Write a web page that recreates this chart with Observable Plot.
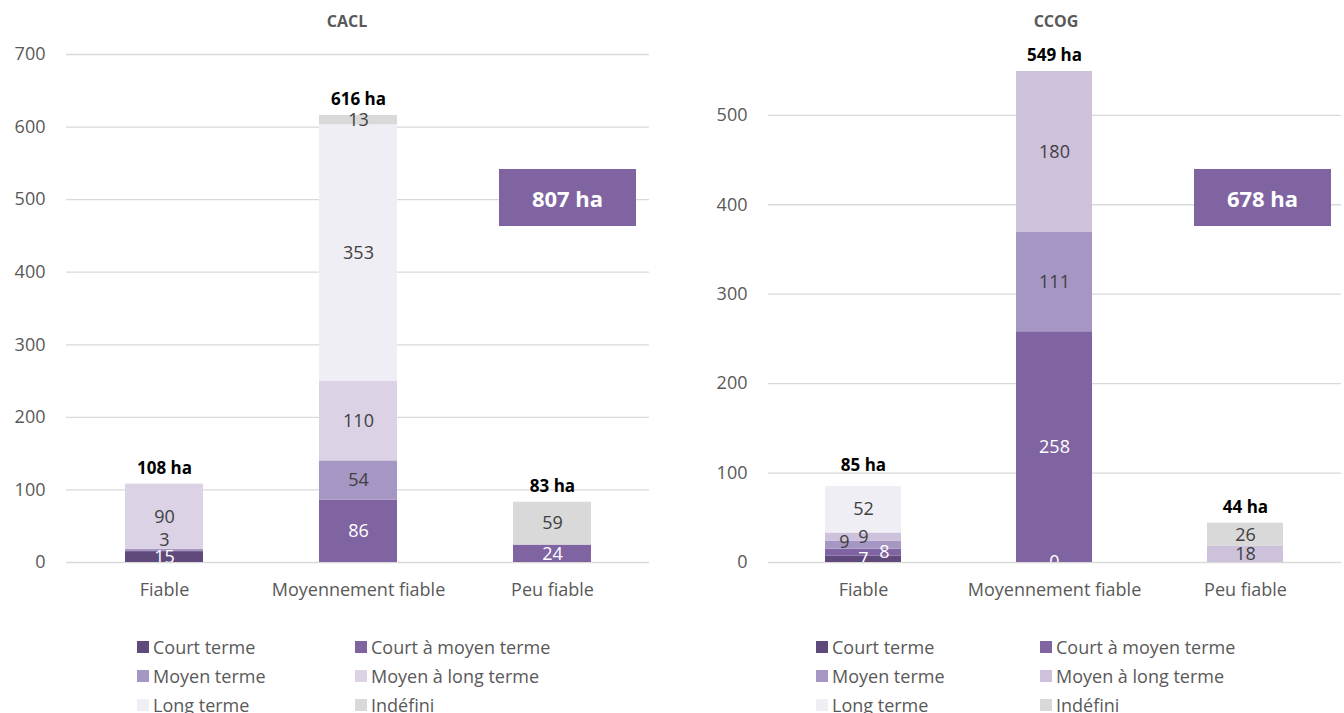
<!DOCTYPE html>
<html>
<head>
<meta charset="utf-8">
<script src="https://cdn.jsdelivr.net/npm/d3@7"></script>
<script src="https://cdn.jsdelivr.net/npm/@observablehq/plot@0.6"></script>
<style>
  html, body { margin: 0; padding: 0; background: #fff; }
  #root { position: relative; width: 1344px; height: 713px; overflow: hidden; font-family: "Open Sans", Lato, sans-serif; }
  .panel { position: absolute; top: 0; }
  .title { position: absolute; top: 12px; font-weight: bold; font-size: 16px; color: #595959; transform: translateX(-50%); line-height: 1.2; }
  .box { position: absolute; width: 137px; height: 57px; background: #8064a2; color: #fff; font-weight: bold; font-size: 22px; display: flex; align-items: center; justify-content: center; }
  .leg { position: absolute; font-size: 18px; color: #595959; display: flex; align-items: center; height: 18px; line-height: 1; white-space: nowrap; }
  .leg span.sw { display: inline-block; width: 12px; height: 12px; margin-right: 4px; }
</style>
</head>
<body>
<div id="root"></div>
<script>
// ---- data ----
const categories = ["Fiable", "Moyennement fiable", "Peu fiable"];
const series = ["Court terme", "Court à moyen terme", "Moyen terme", "Moyen à long terme", "Long terme", "Indéfini"];
// values per category, in series order (null = no segment / no label)
const caclFiable        = [15, null, 3, 90, null, null];
const caclMoyennement   = [null, 86, 54, 110, 353, 13];
const caclPeu           = [null, 24, null, null, null, 59];
const ccogFiable        = [7, 8, 9, 9, 52, null];
const ccogMoyennement   = [0, 258, 111, 180, null, null];
const ccogPeu           = [null, null, null, 18, null, 26];
const caclColors = ["#5f4a7b", "#8064a2", "#a596c3", "#dbd2e6", "#f0eef5", "#d9d9d9"];
const ccogColors = ["#5f4a7b", "#8064a2", "#a596c3", "#cdc1dc", "#f0eef5", "#d9d9d9"];
const whiteLabelSeries = ["Court terme", "Court à moyen terme"];

function toRows(byCat) {
  const rows = [];
  byCat.forEach((vals, i) => vals.forEach((v, j) => {
    if (v !== null) rows.push({cat: categories[i], series: series[j], value: v});
  }));
  return rows;
}

const FONT = "'Open Sans', Lato, sans-serif";

function makeChart({rows, colors, yDomain, yTicks, width, marginLeft, marginRight, nudges, totalNudges}) {
  const totals = categories.map(c => ({cat: c, total: d3.sum(rows.filter(r => r.cat === c), r => r.value)}));
  const key = d => d.cat + "|" + d.series;
  const nudged = new Map(nudges.map(n => [n.cat + "|" + n.series, n]));
  const stackOpts = {x: "cat", y: "value", z: "series", order: series};
  const labelMarks = (filterFn, dx, dy) => [
    Plot.text(rows, Plot.stackY({...stackOpts,
      text: d => (filterFn(d) && !whiteLabelSeries.includes(d.series)) ? String(d.value) : "",
      fill: "#404040", fontSize: 18, dx, dy, clip: true})),
    Plot.text(rows, Plot.stackY({...stackOpts,
      text: d => (filterFn(d) && whiteLabelSeries.includes(d.series)) ? String(d.value) : "",
      fill: "#ffffff", fontSize: 18, dx, dy, clip: true}))
  ];
  const totalMark = (filterFn, dy) => Plot.text(totals, {x: "cat", y: "total",
    text: d => filterFn(d) ? d.total + " ha" : "", dy, fill: "#000", fontWeight: "bold", fontSize: 17});
  const marks = [
    Plot.ruleY(d3.ticks(yDomain[0], yDomain[1], yTicks), {stroke: "#d9d9d9", strokeWidth: 1.3}),
    Plot.barY(rows, Plot.stackY({...stackOpts, fill: "series"})),
    ...labelMarks(d => !nudged.has(key(d)), 0, 0),
    ...nudges.flatMap(n => labelMarks(d => key(d) === n.cat + "|" + n.series, n.dx, n.dy)),
    totalMark(d => !(d.cat in totalNudges), -16),
    ...Object.entries(totalNudges).map(([c, dy]) => totalMark(d => d.cat === c, dy))
  ];
  return Plot.plot({
    width, height: 610,
    marginTop: 54, marginBottom: 48, marginLeft, marginRight,
    style: {fontFamily: FONT, fontSize: "18px", color: "#595959", background: "transparent"},
    x: {domain: categories, paddingInner: 0.6, paddingOuter: 0.3, label: null, tickSize: 0, tickPadding: 21},
    y: {domain: yDomain, ticks: yTicks, label: null, tickSize: 0, tickPadding: 21},
    color: {domain: series, range: colors},
    marks
  });
}

const root = document.getElementById("root");

function addPanel(left, svg) {
  const d = document.createElement("div");
  d.className = "panel";
  d.style.left = left + "px";
  d.appendChild(svg);
  root.appendChild(d);
}

function addDiv(cls, styles, html) {
  const d = document.createElement("div");
  d.className = cls;
  Object.assign(d.style, styles);
  d.innerHTML = html;
  root.appendChild(d);
  return d;
}

const caclRows = toRows([caclFiable, caclMoyennement, caclPeu]);
const ccogRows = toRows([ccogFiable, ccogMoyennement, ccogPeu]);

addPanel(0, makeChart({rows: caclRows, colors: caclColors, yDomain: [0, 700], yTicks: 7,
  width: 672, marginLeft: 66, marginRight: 23,
  nudges: [{cat: "Fiable", series: "Moyen terme", dx: 0, dy: -10}], totalNudges: {}}));
addPanel(672, makeChart({rows: ccogRows, colors: ccogColors, yDomain: [0, 568], yTicks: 6,
  width: 672, marginLeft: 96, marginRight: 3,
  nudges: [{cat: "Fiable", series: "Moyen terme", dx: -19, dy: -3},
           {cat: "Fiable", series: "Court à moyen terme", dx: 21, dy: 0}],
  totalNudges: {"Fiable": -21}}));

// titles
addDiv("title", {left: "347px"}, "CACL");
addDiv("title", {left: "1056px"}, "CCOG");

// grand-total boxes
const caclTotal = d3.sum(caclRows, r => r.value);
const ccogTotal = d3.sum(ccogRows, r => r.value);
addDiv("box", {left: "499px", top: "169px"}, caclTotal + " ha");
addDiv("box", {left: "1194px", top: "169px"}, ccogTotal + " ha");

// legends
function legend(x1, x2, colors) {
  series.forEach((s, i) => {
    const col = i % 2, row = Math.floor(i / 2);
    addDiv("leg", {left: (col === 0 ? x1 : x2) + "px", top: (638 + row * 29) + "px"},
      `<span class="sw" style="background:${colors[i]}"></span>${s}`);
  });
}
legend(137, 355, caclColors);
legend(816, 1040, ccogColors);
</script>
</body>
</html>
